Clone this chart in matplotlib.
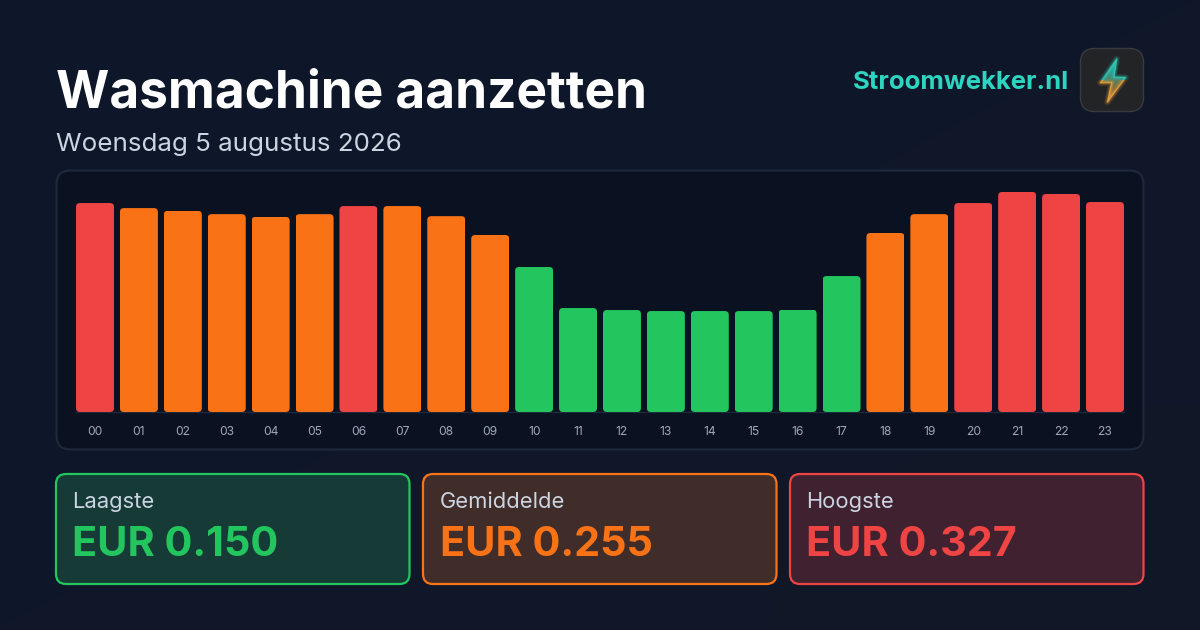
import numpy as np
import matplotlib
matplotlib.use("Agg")
import matplotlib.pyplot as plt
from matplotlib.patches import FancyBboxPatch, Polygon, Rectangle

plt.rcParams['font.family'] = ['Inter', 'DejaVu Sans']

hours = ["%02d" % h for h in range(24)]
prices = [0.3105, 0.303, 0.299, 0.294, 0.290, 0.294, 0.306, 0.306, 0.291, 0.263, 0.2155, 0.1545,
          0.1515, 0.150, 0.150, 0.150, 0.152, 0.202, 0.266, 0.294, 0.3105, 0.327, 0.324, 0.312]
levels = ["h", "m", "m", "m", "m", "m", "h", "m", "m", "m", "l", "l",
          "l", "l", "l", "l", "l", "l", "m", "m", "h", "h", "h", "h"]
level_colors = {"l": "#22c55e", "m": "#f97316", "h": "#ef4444"}

card_labels = ["Laagste", "Gemiddelde", "Hoogste"]
card_values = ["EUR 0.150", "EUR 0.255", "EUR 0.327"]
card_colors = ["#22c55e", "#f97316", "#ef4444"]
card_fills = ["#163a36", "#402d2a", "#3f2130"]
card_lefts = [56, 423, 790]

fig = plt.figure(figsize=(12, 6.3), dpi=100)

# achtergrond in pixels
bg = fig.add_axes([0, 0, 1, 1])
bg.axis("off")
grad = np.array([[0.0, 0.5], [0.5, 1.0]])
cmap = matplotlib.colors.LinearSegmentedColormap.from_list("bg", ["#0e172a", "#0f172a", "#111827"])
bg.imshow(grad, extent=(0, 1200, 630, 0), cmap=cmap, aspect="auto", interpolation="bicubic", zorder=0)


def box(x, y, w, h, r, fc, ec, lw):
    p = FancyBboxPatch((x + r, y + r), w - 2 * r, h - 2 * r, boxstyle="round,pad=%g,rounding_size=%g" % (r, r),
                       fc=fc, ec=ec, lw=lw, zorder=1)
    bg.add_patch(p)
    return p


bg.text(55.5, 94.5, "Wasmachine aanzetten", color="white", fontsize=37.0, fontweight="bold", va="center", ha="left")
bg.text(56.5, 145, "Woensdag 5 augustus 2026", color="#cbd5e1", fontsize=18.7, va="center", ha="left")
bg.text(1068.5, 82.5, "Stroomwekker.nl", color="#2dd4bf", fontsize=18.5, fontweight="bold", va="center", ha="right")

# icoon
box(1080.5, 48.5, 63, 63, 14, "#232425", "#3a3b3e", 1)
bolt = [(1116.7, 59), (1100.5, 82.7), (1111.7, 82.7), (1107.5, 102), (1125.5, 77.5), (1114, 77)]
fill = np.linspace(0, 1, 64).reshape(-1, 1)
cm_bolt = matplotlib.colors.LinearSegmentedColormap.from_list("bolt", ["#27c4b2", "#2f9a8e", "#7a6a3c", "#d9963a"])
im = bg.imshow(fill, extent=(1095, 1130, 104, 56), cmap=cm_bolt, aspect="auto", zorder=3)
im.set_clip_path(Polygon(bolt, closed=True, transform=bg.transData))
# gloed en rand: boven teal, onder oranje
parts = [("#2dd4bf", Rectangle((1090, 50), 45, 30, transform=bg.transData)),
         ("#f5a83c", Rectangle((1090, 80), 45, 30, transform=bg.transData))]
for col, rect in parts:
    for lw, a in [(5, 0.1), (3.5, 0.15), (2, 0.25), (0.8, 0.8)]:
        edge = Polygon(bolt, closed=True, fill=False, ec=col, lw=lw, alpha=a, joinstyle="round", zorder=4)
        bg.add_patch(edge)
        edge.set_clip_path(rect)
bg.set_xlim(0, 1200)
bg.set_ylim(630, 0)

# grafiek paneel
box(56.5, 170.5, 1087, 279, 14, "#0a1120", "#1e293b", 1.5)

ax = fig.add_axes([73.04 / 1200, (630 - 412) / 630, (1126.96 - 73.04) / 1200, 238 / 630])
ax.patch.set_alpha(0)
ax.set_xlim(-0.5, 23.5)
ax.set_ylim(0, 238 / 673)
colors = [level_colors[l] for l in levels]
bars = ax.bar(range(24), prices, width=38 / 43.91, color=colors, zorder=3)
for b in bars:
    x0, y0 = ax.transData.transform((b.get_x(), 0))
    x1, y1 = ax.transData.transform((b.get_x() + b.get_width(), b.get_height()))
    clip = FancyBboxPatch((x0 + 4, y0 + 4), x1 - x0 - 8, y1 - y0 - 8, boxstyle="round,pad=4,rounding_size=4",
                          transform=None)
    b.set_clip_path(clip)
ax.set_xticks(range(24))
ax.set_xticklabels(hours)
ax.tick_params(axis="x", length=0, pad=10, labelsize=8.7, labelcolor="#9ca8ba")
ax.set_yticks([])
for s in ["top", "left", "right"]:
    ax.spines[s].set_visible(False)
ax.spines["bottom"].set_color("#1e293b")
ax.spines["bottom"].set_linewidth(1)
ax.spines["bottom"].set_bounds(-0.43, 23.43)

# kaartjes
for lab, val, col, fc, x in zip(card_labels, card_values, card_colors, card_fills, card_lefts):
    box(x, 474, 353.5, 110, 10, fc, col, 1.6)
    bg.text(x + 16.5, 502, lab, color="#cbd5e1", fontsize=15.8, va="center", ha="left")
    bg.text(x + 16.5, 545, val, color=col, fontsize=29.8, fontweight="bold", va="center", ha="left")

fig.savefig("out.png", dpi=100)
